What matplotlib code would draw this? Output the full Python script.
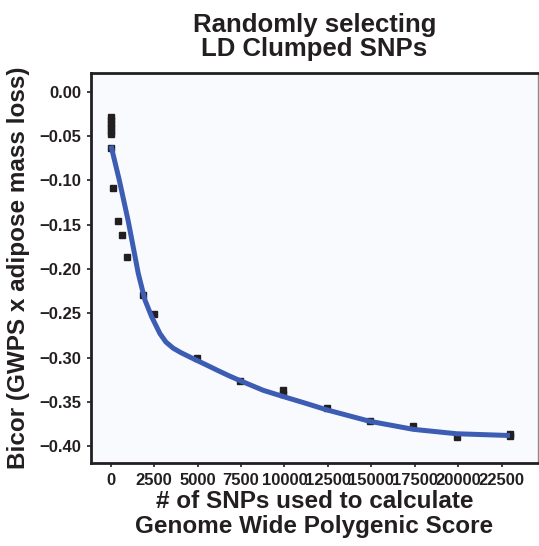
import numpy as np
import matplotlib.pyplot as plt
from matplotlib import rc

rc('font', **{'family': 'sans-serif', 'sans-serif': ['Liberation Sans', 'DejaVu Sans'], 'weight': 'bold'})

# random SNP draws (x = number of SNPs, y = bicor)
snp_n = [10, 10, 10, 10, 10, 10, 20, 150, 440, 670, 920, 1860, 2490, 4960, 7440,
         9920, 9920, 12440, 14920, 17390, 19920, 22975, 22975]
bicor = [-0.029, -0.032, -0.036, -0.040, -0.044, -0.048, -0.0635, -0.109, -0.146,
         -0.162, -0.187, -0.230, -0.251, -0.301, -0.327, -0.337, -0.341, -0.357,
         -0.372, -0.377, -0.390, -0.386, -0.388]

# smoothed trend
fit_n = [20, 500, 1000, 1208, 1588, 1973, 2359, 2837, 3180, 3602, 4045, 4563, 5524,
         6099, 6800, 7440, 8780, 9930, 11200, 12430, 14920, 17410, 19910, 22975]
fit_y = [-0.061, -0.100, -0.145, -0.166, -0.205, -0.235, -0.254, -0.273, -0.2825,
         -0.2895, -0.2945, -0.2995, -0.3085, -0.314, -0.3205, -0.326, -0.337, -0.344,
         -0.3515, -0.359, -0.372, -0.381, -0.386, -0.388]

xticks = [0, 2500, 5000, 7500, 10000, 12500, 15000, 17500, 20000, 22500]
yticks = [0.00, -0.05, -0.10, -0.15, -0.20, -0.25, -0.30, -0.35, -0.40]

dark = '#231f20'

fig = plt.figure(figsize=(5.39, 5.46), dpi=100)
ax = fig.add_axes([91/539, 1-463/546, (538-91)/539, (463-73)/546])
ax.set_facecolor('#f8fafd')

ax.plot(snp_n, bicor, 's', color=dark, ms=4.5, zorder=2)
ax.plot(fit_n, fit_y, '-', color='#3c5db3', lw=3.6, solid_capstyle='butt',
        solid_joinstyle='round', zorder=3)

ax.set_xlim(-1130, 24590)
ax.set_ylim(-0.419, 0.021)
ax.set_xticks(xticks)
ax.set_xticklabels([str(t) for t in xticks])
ax.set_yticks(yticks)
ax.set_yticklabels(['%.2f' % t if t == 0 else '\u2212%.2f' % abs(t) for t in yticks])
ax.tick_params(axis='both', labelsize=12, colors=dark, length=3, width=1.2)
ax.tick_params(axis='x', pad=4)
ax.tick_params(axis='y', pad=4)

for s in ['left', 'bottom', 'top']:
    ax.spines[s].set_color(dark)
    ax.spines[s].set_linewidth(2)
ax.spines['right'].set_color('#8a8a85')
ax.spines['right'].set_linewidth(1)

ax.set_title("Randomly selecting\nLD Clumped SNPs", fontsize=18.5, color=dark,
             fontweight='bold', linespacing=1.0, pad=12)
ax.set_xlabel("# of SNPs used to calculate\nGenome Wide Polygenic Score", fontsize=17.5,
              color=dark, fontweight='bold', linespacing=1.1, labelpad=2)
ax.set_ylabel("Bicor (GWPS x adipose mass loss)", fontsize=17.5, color=dark,
              fontweight='bold', labelpad=7)

plt.savefig('out.png', dpi=100)
